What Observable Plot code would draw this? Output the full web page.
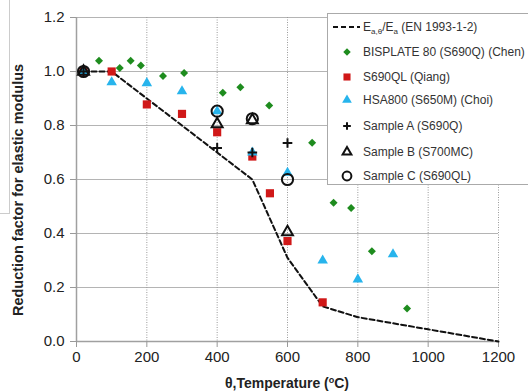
<!DOCTYPE html>
<html>
<head>
<meta charset="utf-8">
<script src="https://cdn.jsdelivr.net/npm/d3@7"></script>
<script src="https://cdn.jsdelivr.net/npm/@observablehq/plot@0.6"></script>
<style>
  html, body { margin: 0; padding: 0; background: #fff; }
  #wrap { position: relative; width: 528px; height: 392px; overflow: hidden; font-family: "Liberation Sans", Arial, sans-serif; }
  #chart { position: absolute; left: 0; top: 0; }
  .ylab { position: absolute; left: 18px; top: 190px; transform: translate(-50%, -50%) rotate(-90deg); white-space: nowrap; font-weight: bold; font-size: 14.5px; color: #222; }
  .xlab { position: absolute; left: 287px; top: 383px; transform: translate(-50%, -50%); white-space: nowrap; font-weight: bold; font-size: 14px; color: #222; }
  .xlab sup { font-size: 9px; vertical-align: 5px; }
  #legend { position: absolute; left: 327px; top: 13px; width: 215px; height: 172px; border: 1px solid #aaa; background: #fff; box-sizing: border-box; }
  #side { position: absolute; left: -1px; top: -1px; width: 11px; height: 215px; border: 1px solid #ccc; box-sizing: border-box; }
</style>
</head>
<body>
<div id="wrap">
  <div id="chart"></div>
  <div id="side"></div>
  <div class="ylab">Reduction factor for elastic modulus</div>
  <div class="xlab">θ,Temperature (<sup>o</sup>C)</div>
  <div id="legend"></div>
</div>
<script>
// ---- Data (temperature °C, reduction factor) ----
const ecTemp  = [20, 100, 200, 300, 400, 500, 600, 700, 800, 900, 1000, 1100, 1200];
const ecValue = [1.0, 1.0, 0.9, 0.8, 0.7, 0.6, 0.31, 0.13, 0.09, 0.0675, 0.045, 0.0225, 0.0];

const chenTemp  = [64, 123, 154, 183, 246, 306, 416, 466, 548, 670, 731, 781, 840, 940];
const chenValue = [1.04, 1.013, 1.04, 1.022, 0.983, 0.994, 0.921, 0.942, 0.874, 0.736, 0.514, 0.494, 0.334, 0.122];

const qiangTemp  = [20, 100, 200, 300, 400, 500, 550, 600, 700];
const qiangValue = [1.0, 1.0, 0.878, 0.843, 0.775, 0.685, 0.549, 0.372, 0.145];

const choiTemp  = [20, 100, 200, 300, 400, 500, 600, 700, 800, 900];
const choiValue = [1.0, 0.96, 0.957, 0.927, 0.853, 0.70, 0.625, 0.30, 0.23, 0.323];

const sampleATemp  = [20, 400, 500, 600];
const sampleAValue = [1.0, 0.717, 0.70, 0.735];

const sampleBTemp  = [20, 400, 500, 600];
const sampleBValue = [1.0, 0.805, 0.82, 0.405];

const sampleCTemp  = [20, 400, 500, 600];
const sampleCValue = [1.0, 0.853, 0.825, 0.60];

const xTicks = [0, 200, 400, 600, 800, 1000, 1200];
const yTicks = [0.0, 0.2, 0.4, 0.6, 0.8, 1.0, 1.2];

const seriesNames = [
  "Ea,θ/Ea (EN 1993-1-2)",
  "BISPLATE 80 (S690Q) (Chen)",
  "S690QL (Qiang)",
  "HSA800 (S650M) (Choi)",
  "Sample A (S690Q)",
  "Sample B (S700MC)",
  "Sample C (S690QL)"
];

const zip = (xs, ys) => xs.map((x, i) => ({t: x, v: ys[i]}));
const ec = zip(ecTemp, ecValue);
const chen = zip(chenTemp, chenValue);
const qiang = zip(qiangTemp, qiangValue);
const choi = zip(choiTemp, choiValue);
const sA = zip(sampleATemp, sampleAValue);
const sB = zip(sampleBTemp, sampleBValue);
const sC = zip(sampleCTemp, sampleCValue);

const GREEN = "#1e8c1e", RED = "#d01818", CYAN = "#27b4ec";

const plot = Plot.plot({
  width: 528,
  height: 392,
  marginLeft: 76,
  marginRight: 30,
  marginTop: 17,
  marginBottom: 51,
  style: {fontFamily: "'Liberation Sans', Arial, sans-serif", background: "transparent"},
  x: {domain: [0, 1200]},
  y: {domain: [0, 1.2]},
  marks: [
    Plot.ruleY(yTicks, {stroke: "#b4b4b4", strokeWidth: 1.2}),
    Plot.ruleX(xTicks.slice(1), {stroke: "#9a9a9a", strokeDasharray: "1,1.5", strokeWidth: 1}),
    Plot.ruleX([0], {stroke: "#a0a0a0", strokeWidth: 1.5}),
    Plot.ruleY([0], {stroke: "#a0a0a0", strokeWidth: 1.5}),
    Plot.axisX({ticks: xTicks, tickSize: 6, tickPadding: 4, fontSize: 15, label: null, tickFormat: d3.format("d"), stroke: "#999", fill: "#222"}),
    Plot.axisY({ticks: yTicks, tickSize: 6, tickPadding: 6, fontSize: 15, label: null, tickFormat: d3.format(".1f"), stroke: "#999", fill: "#222"}),
    Plot.line(ec, {x: "t", y: "v", stroke: "#111", strokeWidth: 2, strokeDasharray: "5,3"}),
    Plot.dot(chen, {x: "t", y: "v", symbol: "diamond2", r: 3.6, fill: GREEN, stroke: "none"}),
    Plot.dot(qiang, {x: "t", y: "v", symbol: "square", r: 4.6, fill: RED, stroke: "none"}),
    Plot.dot(choi, {x: "t", y: "v", symbol: "triangle", r: 3.9, fill: CYAN, stroke: "none"}),
    Plot.dot(sA, {x: "t", y: "v", symbol: "plus", r: 3.2, stroke: "#111", strokeWidth: 2, fill: "none"}),
    Plot.dot(sB, {x: "t", y: "v", symbol: "triangle2", r: 5.2, stroke: "#111", strokeWidth: 2, fill: "none"}),
    Plot.dot(sC, {x: "t", y: "v", symbol: "circle", r: 5.6, stroke: "#111", strokeWidth: 2, fill: "none"})
  ]
});
document.getElementById("chart").appendChild(plot);

// ---- Legend ----
const legend = d3.select("#legend");
const lsvg = legend.append("svg").attr("width", 215).attr("height", 172)
  .style("position", "absolute").style("left", "-1px").style("top", "-1px");
const rowY = [14, 39, 64, 87, 113, 139, 163];
const symX = 20, textX = 36;
// dashed line
lsvg.append("line").attr("x1", 6).attr("x2", 33).attr("y1", rowY[0]).attr("y2", rowY[0])
  .attr("stroke", "#111").attr("stroke-width", 2).attr("stroke-dasharray", "5,3");
const sym = (type, size) => d3.symbol(type, size)();
const legendSyms = [
  null,
  {d: sym(d3.symbolDiamond2, Math.PI * 3.4 * 3.4), fill: GREEN, stroke: "none"},
  {d: sym(d3.symbolSquare, Math.PI * 4 * 4), fill: RED, stroke: "none"},
  {d: sym(d3.symbolTriangle, Math.PI * 3.6 * 3.6), fill: CYAN, stroke: "none"},
  {d: sym(d3.symbolPlus, Math.PI * 2.6 * 2.6), fill: "none", stroke: "#111"},
  {d: sym(d3.symbolTriangle2, Math.PI * 4.2 * 4.2), fill: "none", stroke: "#111"},
  {d: sym(d3.symbolCircle, Math.PI * 4.4 * 4.4), fill: "none", stroke: "#111"}
];
legendSyms.forEach((s, i) => {
  if (!s) return;
  lsvg.append("path").attr("d", s.d).attr("transform", `translate(${symX},${rowY[i]})`)
    .attr("fill", s.fill).attr("stroke", s.stroke).attr("stroke-width", 2);
});
seriesNames.forEach((name, i) => {
  const t = lsvg.append("text").attr("x", textX).attr("y", rowY[i]).attr("dy", "0.35em")
    .attr("font-size", 12).attr("fill", "#333")
    .attr("font-family", "'Liberation Sans', Arial, sans-serif");
  if (i === 0) {
    t.append("tspan").text("E");
    t.append("tspan").attr("font-size", 8).attr("dy", 3).text("a,θ");
    t.append("tspan").attr("dy", -3).text("/E");
    t.append("tspan").attr("font-size", 8).attr("dy", 3).text("a");
    t.append("tspan").attr("dy", -3).text(" (EN 1993-1-2)");
  } else {
    t.text(name);
  }
});
</script>
</body>
</html>
